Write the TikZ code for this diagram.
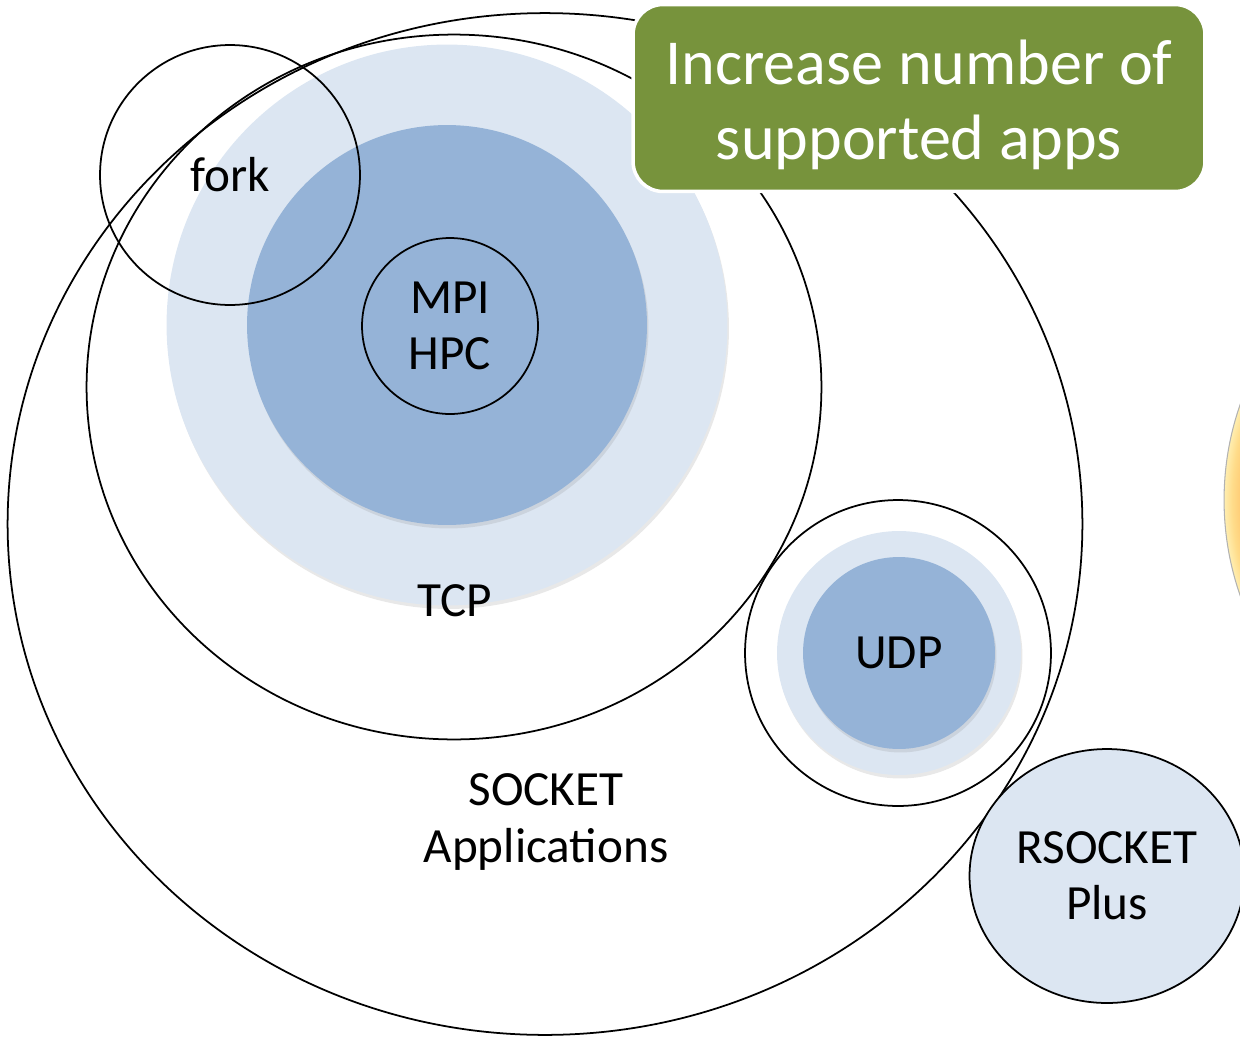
\documentclass[tikz,border=0pt]{standalone}
\usepackage{fontspec}
\setmainfont{Carlito}
\usepackage{xcolor}
\usetikzlibrary{shapes.geometric,shadows,positioning}
\definecolor{paleblue}{HTML}{DCE6F2}
\definecolor{midblue}{HTML}{95B3D7}
\definecolor{appgreen}{HTML}{77933C}
\definecolor{sunorange}{HTML}{FFC66E}
\definecolor{sunyellow}{HTML}{FFDC8A}
\definecolor{sunpale}{HTML}{FFEEB0}
\pgfdeclareradialshading{sunshade}{\pgfpoint{0bp}{0bp}}{color(0bp)=(sunorange); color(23.3bp)=(sunorange); color(24.3bp)=(sunyellow); color(25bp)=(sunpale); color(50bp)=(sunpale)}

\begin{document}
\begin{tikzpicture}[
    x=0.02cm, y=-0.02cm,
    lightdisk/.style={circle, fill=paleblue, inner sep=0pt, drop shadow={opacity=0.18, shadow xshift=0.03cm, shadow yshift=-0.07cm}},
    darkdisk/.style={circle, fill=midblue, inner sep=0pt, drop shadow={opacity=0.18, shadow xshift=0.03cm, shadow yshift=-0.07cm}},
    ring/.style={circle, draw, line width=1pt, inner sep=0pt},
    oval/.style={ellipse, draw, line width=1pt, inner sep=0pt},
    txt/.style={font=\fontsize{28}{32}\selectfont, align=center, text=black},
    goalbox/.style={rectangle, rounded corners=0.6cm, fill=appgreen, draw=white, line width=2pt, text=white, font=\fontsize{36.5}{43}\selectfont, align=center, minimum width=11.44cm, minimum height=3.74cm}
]
    \clip (0,0) rectangle (1240,1038);

    % Sun at the right edge
    \node[circle, shade, shading=sunshade, draw=gray!60, line width=0.6pt, minimum size=11.6cm, inner sep=0pt] (sun) at (1514,500) {};

    % TCP disks
    \node[lightdisk, minimum size=11.22cm] (tcpdisk) at (447,325) {};
    \node[darkdisk, minimum size=8cm] (hpcdisk) at (447,325) {};

    % UDP disks
    \node[lightdisk, minimum size=4.88cm] (udpdisk) at (899,653) {};
    \node[darkdisk, txt, minimum size=3.84cm] (udp) at (899,653) {UDP};

    % Outlines
    \node[oval, minimum width=21.5cm, minimum height=20.44cm] (socket) at (545,524) {};
    \node[oval, minimum width=14.7cm, minimum height=14.1cm] (tcp) at (454,387) {};
    \node[ring, txt, minimum size=3.52cm] (mpi) at (450,326) {MPI\\HPC};
    \node[ring, minimum size=6.12cm] (udpring) at (898,653) {};
    \node[ring, txt, minimum size=5.2cm] (fork) at (230,175) {fork};

    % RSOCKET
    \node[oval, txt, fill=paleblue, minimum width=5.5cm, minimum height=5.08cm] (rsocket) at (1107,876) {RSOCKET\\Plus};

    % Labels
    \node[txt] (tcplbl) at (455,601) {TCP};
    \node[txt] (socketlbl) at (546,822) {SOCKET\\Applications};

    % Goal box
    \node[goalbox] (goal) at (919,98) {\rule{0pt}{33pt}Increase number of\\supported apps};
\end{tikzpicture}
\end{document}
